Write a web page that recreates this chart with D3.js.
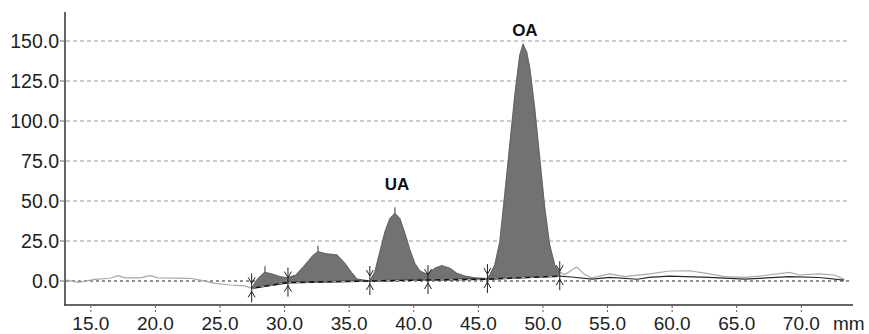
<!DOCTYPE html>
<html>
<head>
<meta charset="utf-8">
<script src="https://cdn.jsdelivr.net/npm/d3@7"></script>
<style>
  body { margin: 0; background: #fff; }
  svg { display: block; font-family: "Liberation Sans", Arial, sans-serif; }
</style>
</head>
<body>
<div id="chart"></div>
<script>
// tick values
var xTicks = [15, 20, 25, 30, 35, 40, 45, 50, 55, 60, 65, 70];
var yTicks = [0, 25, 50, 75, 100, 125, 150];

// densitometer trace (mm, signal)
var traceMm = [13.09, 14.02, 15.33, 16.49, 17.11, 17.65, 18.81, 19.59, 20.2, 22.68, 23.45, 24.61, 25.77, 26.93, 27.45,
  27.84, 28.25, 28.48, 28.7, 29.02, 29.64, 30.18, 30.88, 31.58, 32.2, 32.58, 33.28, 34.05, 34.67, 35.21, 35.6, 36.6,
  36.99, 37.38, 37.77, 38.15, 38.54, 38.92, 39.31, 39.7, 40.08, 40.47, 40.86, 41.09,
  41.63, 42.17, 42.79, 43.33, 43.95, 44.72, 45.65,
  45.88, 46.27, 46.66, 47.04, 47.43, 47.82, 48.2, 48.46, 48.74, 48.98, 49.36, 49.75, 50.14, 50.52, 50.91, 51.22,
  51.68, 52.07, 52.61, 53.23, 53.77, 55.16, 56.32, 58.26, 59.8, 61.35, 62.9, 64.06, 65.6, 66.76, 69.08, 69.85, 71.4, 72.56, 73.33];
var traceValue = [0.6, -0.8, 1, 1.7, 3.3, 2, 2, 3.3, 2, 1.7, 0.6, -1.5, -2.5, -3.1, -4.6,
  0.6, 4, 5.5, 5, 4.4, 2.7, 2, 3.75, 10, 16, 18.3, 16.9, 16.3, 11, 5, 1.2, 0,
  5.8, 18.3, 30.8, 39, 42.3, 39, 29.8, 19.4, 11, 6.25, 4.8, 4.5,
  8, 9.6, 8, 4.8, 3.1, 2, 1.5,
  3.75, 10, 24.6, 53.8, 85, 116, 141, 148, 143, 133, 108, 76.7, 45.4, 22.5, 10, 5.8,
  4, 6, 8.7, 4, 2, 4.4, 2.7, 4.4, 6.25, 6.4, 4.4, 2.7, 2.3, 3.1, 5.4, 3.75, 4.4, 3.75, 1];

// integration boundaries and their baseline levels
var markerMm = [27.45, 30.26, 36.6, 41.1, 45.7, 51.3];
var markerBase = [-4.6, -1, 0, 0.6, 1.2, 3];

// smoothed baseline after the last boundary
var tailMm = [51.3, 52.2, 53.8, 55.2, 57.3, 58.2, 59.8, 62.9, 65.6, 69.1, 71.4, 73.3];
var tailBase = [3, 2.5, 1.2, 2.3, 1.1, 2.3, 3.1, 2.3, 1.2, 2.7, 2.2, 0.6];

// peak apex ticks
var apexMm = [28.48, 32.58, 38.54];
var apexValue = [5.5, 18.3, 42.3];

// peak names
var peakNames = ["UA", "OA"];
var peakNameMm = [38.7, 48.6];
var peakNameValue = [57, 153];

var width = 869, height = 334;
var x = d3.scaleLinear().domain([13, 74]).range([65, 853]);
var y = d3.scaleLinear().domain([-15, 168.125]).range([305, 12]);

var svg = d3.select("#chart").append("svg")
  .attr("width", width)
  .attr("height", height);

// grid
svg.append("g").selectAll("line")
  .data(yTicks.filter(function(d) { return d > 0; }))
  .enter().append("line")
  .attr("x1", 66).attr("x2", 848)
  .attr("y1", d => y(d)).attr("y2", d => y(d))
  .attr("stroke", "#9a9a9a")
  .attr("stroke-width", 1)
  .attr("stroke-dasharray", "4,3");

// zero line
svg.append("line")
  .attr("x1", 66).attr("x2", 852)
  .attr("y1", y(0)).attr("y2", y(0))
  .attr("stroke", "#222")
  .attr("stroke-width", 1)
  .attr("stroke-dasharray", "3,3");

var trace = traceMm.map(function(m, i) { return [m, traceValue[i]]; });
var baseAt = d3.scaleLinear().domain(markerMm).range(markerBase);

// full trace as thin gray line
svg.append("path")
  .datum(trace)
  .attr("fill", "none")
  .attr("stroke", "#a8a8a8")
  .attr("stroke-width", 1.2)
  .attr("d", d3.line().x(d => x(d[0])).y(d => y(d[1])));

// dark baseline after last boundary
var tail = tailMm.map(function(m, i) { return [m, tailBase[i]]; });
svg.append("path")
  .datum(tail)
  .attr("fill", "none")
  .attr("stroke", "#2a2a2a")
  .attr("stroke-width", 1.2)
  .attr("d", d3.line().x(d => x(d[0])).y(d => y(d[1])));

// filled peaks between boundaries
var peakData = trace.filter(function(d) { return d[0] >= markerMm[0] && d[0] <= markerMm[markerMm.length - 1]; });
svg.append("path")
  .datum(peakData)
  .attr("fill", "#727272")
  .attr("stroke", "#585858")
  .attr("stroke-width", 0.8)
  .attr("d", d3.area()
    .x(d => x(d[0]))
    .y0(d => y(baseAt(d[0])))
    .y1(d => y(Math.max(d[1], baseAt(d[0])))));

// baseline under the peaks
var base = markerMm.map(function(m, i) { return [m, markerBase[i]]; });
var baseLine = d3.line().x(d => x(d[0])).y(d => y(d[1]));
svg.append("path")
  .datum(base)
  .attr("fill", "none")
  .attr("stroke", "#111")
  .attr("stroke-width", 1.6)
  .attr("d", baseLine);
svg.append("path")
  .datum(base)
  .attr("fill", "none")
  .attr("stroke", "#ddd")
  .attr("stroke-width", 0.8)
  .attr("stroke-dasharray", "4,5")
  .attr("d", baseLine);

// apex ticks
svg.append("g").selectAll("line")
  .data(apexMm)
  .enter().append("line")
  .attr("x1", d => x(d)).attr("x2", d => x(d))
  .attr("y1", (d, i) => y(apexValue[i]) - 6)
  .attr("y2", (d, i) => y(apexValue[i]))
  .attr("stroke", "#333")
  .attr("stroke-width", 1);

// boundary markers
var markers = svg.append("g").selectAll("g")
  .data(markerMm)
  .enter().append("g")
  .attr("transform", (d, i) => "translate(" + x(d) + "," + y(markerBase[i]) + ")");
markers.append("line")
  .attr("x1", 0).attr("x2", 0)
  .attr("y1", -15).attr("y2", 14)
  .attr("stroke", "#222")
  .attr("stroke-width", 1);
markers.append("path")
  .attr("d", "M-3.5,-11L0,-5L3.5,-11M-3.5,9L0,3L3.5,9")
  .attr("fill", "none")
  .attr("stroke", "#222")
  .attr("stroke-width", 1);

// peak labels
svg.append("g").selectAll("text")
  .data(peakNames)
  .enter().append("text")
  .attr("x", (d, i) => x(peakNameMm[i]))
  .attr("y", (d, i) => y(peakNameValue[i]))
  .attr("text-anchor", "middle")
  .attr("font-size", "17px")
  .attr("font-weight", "bold")
  .attr("fill", "#111")
  .text(d => d);

// axes
svg.append("line")
  .attr("x1", 65).attr("x2", 65)
  .attr("y1", 12).attr("y2", 305.5)
  .attr("stroke", "#333").attr("stroke-width", 1.5);
svg.append("line")
  .attr("x1", 64.3).attr("x2", 853)
  .attr("y1", 305).attr("y2", 305)
  .attr("stroke", "#333").attr("stroke-width", 1.5);

var yLab = svg.append("g").selectAll("g")
  .data(yTicks)
  .enter().append("g");
yLab.append("line")
  .attr("x1", 60).attr("x2", 65)
  .attr("y1", d => y(d)).attr("y2", d => y(d))
  .attr("stroke", "#666").attr("stroke-width", 1);
yLab.append("text")
  .attr("x", 59)
  .attr("y", d => y(d))
  .attr("dy", "0.36em")
  .attr("text-anchor", "end")
  .attr("font-size", "19.5px")
  .attr("fill", "#222")
  .text(d => d.toFixed(1));

var xLab = svg.append("g").selectAll("g")
  .data(xTicks)
  .enter().append("g");
xLab.append("line")
  .attr("x1", d => x(d)).attr("x2", d => x(d))
  .attr("y1", 306).attr("y2", 313)
  .attr("stroke", "#555").attr("stroke-width", 1)
  .attr("stroke-dasharray", "2,2");
xLab.append("text")
  .attr("x", d => x(d))
  .attr("y", 330)
  .attr("text-anchor", "middle")
  .attr("font-size", "19px")
  .attr("fill", "#222")
  .text(d => d.toFixed(1));

svg.append("text")
  .attr("x", 833)
  .attr("y", 330)
  .attr("font-size", "19px")
  .attr("fill", "#222")
  .text("mm");
</script>
</body>
</html>
